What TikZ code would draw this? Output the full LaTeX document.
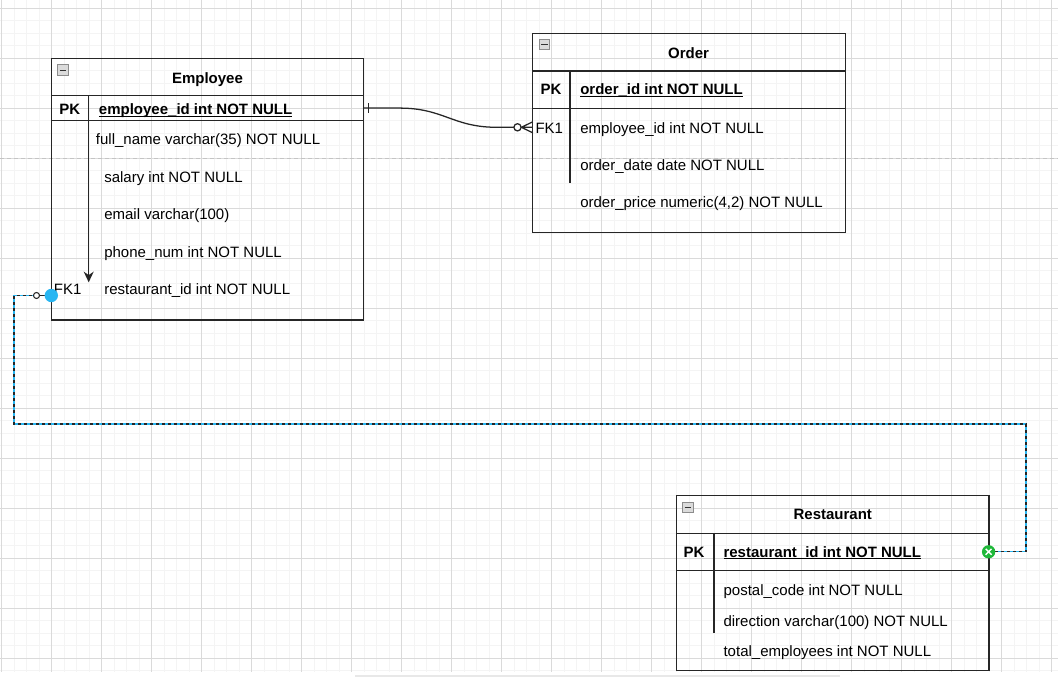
\documentclass[tikz,border=0pt]{standalone}
\usepackage{fontspec}
\setmainfont{Liberation Sans}
\usetikzlibrary{arrows.meta,calc}

\definecolor{gridminor}{HTML}{F4F4F4}
\definecolor{gridmajor}{HTML}{DADADA}
\definecolor{pagebreak}{HTML}{C4C4C4}
\definecolor{selblue}{HTML}{29B6F2}
\definecolor{okgreen}{HTML}{1FB83A}
\definecolor{linecol}{HTML}{262626}

% bold, underlined primary-key field
\newcommand\keyfield[1]{\setbox0\hbox{\bfseries #1}\rlap{\rule[-1.5pt]{\wd0}{0.8pt}}\box0}

\tikzset{
  minorline/.style={gridminor, line width=0.75pt},
  majorline/.style={gridmajor, line width=0.75pt},
  tbl/.style={draw=linecol, line width=0.95pt},
  row/.style={inner sep=0pt, outer sep=0pt, minimum width=234.3pt},
  tabletitle/.style={anchor=base, inner sep=0pt, font=\fontsize{11.25}{13.5}\selectfont\bfseries},
  keylbl/.style={anchor=base, inner sep=0pt, font=\fontsize{11.25}{13.5}\selectfont\bfseries},
  field/.style={anchor=base west, inner sep=0pt},
  fklbl/.style={anchor=base east, inner sep=0pt},
  minusbox/.style={draw=black!45, fill=black!14, line width=0.6pt, minimum size=8pt, inner sep=0pt,
    path picture={\draw[black!80, line width=0.9pt]
      ([xshift=-2.4pt]path picture bounding box.center) -- ([xshift=2.4pt]path picture bounding box.center);}},
  rel/.style={draw=linecol, line width=0.95pt},
  handle/.style={circle, inner sep=0pt, minimum size=10pt, draw=none},
}

\begin{document}
\begin{tikzpicture}[x=0.75pt, y=-0.75pt, font=\fontsize{11.25}{13.5}\selectfont]
\useasboundingbox (0,0) rectangle (1058,677);
\fill[white] (0,0) rectangle (1058,677);

% canvas grid
\foreach \k in {0,...,84} \draw[minorline] ({1.7+12.5*\k},0) -- ({1.7+12.5*\k},672);
\foreach \k in {0,...,53} \draw[minorline] (0,{8.3+12.5*\k}) -- (1058,{8.3+12.5*\k});
\foreach \k in {0,...,21} \draw[majorline] ({1.7+50*\k},0) -- ({1.7+50*\k},672);
\foreach \k in {0,...,13} \draw[majorline] (0,{8.3+50*\k}) -- (1058,{8.3+50*\k});
\fill[black!9] (355,674.8) rectangle (840,677);

% page break
\draw[pagebreak, line width=0.9pt, dash pattern=on 3pt off 2.25pt] (0,158.3) -- (1058,158.3);

% ---------------- Employee ----------------
\draw[tbl] (51.3,58.3) rectangle (363.7,320);
\draw[tbl] (51.3,95.5) -- (363.7,95.5);
\draw[tbl] (51.3,120.7) -- (363.7,120.7);
\draw[tbl, -{Stealth[length=8pt, width=7.5pt]}] (88.7,95.5) -- (88.7,282.3);
\node[minusbox] (emp-min) at (62.8,70.2) {};
\node[tabletitle] (emp-title) at (207.5,83.3) {Employee};
\node[row, minimum height=18.9pt] (emp-pk) at (207.5,108.1) {};
\node[keylbl] (emp-pk-k) at (69.7,115) {PK};
\node[field] (emp-pk-f) at (98.7,115) {\keyfield{employee\_id int NOT NULL}};
\node[field] (emp-f1) at (95.7,145) {full\_name varchar(35) NOT NULL};
\node[field] (emp-f2) at (104,182.5) {salary int NOT NULL};
\node[field] (emp-f3) at (104,220) {email varchar(100)};
\node[field] (emp-f4) at (104,257.5) {phone\_num int NOT NULL};
\node[row, minimum height=27pt] (emp-fk) at (207.5,295.5) {};
\node[fklbl] (emp-fk-k) at (81.7,295) {FK1};
\node[field] (emp-f5) at (104,295) {restaurant\_id int NOT NULL};

% ---------------- Order ----------------
\draw[tbl] (532.8,33.3) rectangle (845.3,232.3);
\draw[tbl] (532.8,71) -- (845.3,71);
\draw[tbl] (532.8,108.7) -- (845.3,108.7);
\draw[tbl] (570,71) -- (570,182.7);
\node[minusbox] (ord-min) at (544.3,44.5) {};
\node[tabletitle] (ord-title) at (688.5,58.3) {Order};
\node[row, minimum height=27.8pt] (ord-pk) at (689,89.8) {};
\node[keylbl] (ord-pk-k) at (551,95) {PK};
\node[field] (ord-pk-f) at (580,95) {\keyfield{order\_id int NOT NULL}};
\node[row, minimum height=27.8pt] (ord-fk) at (689,127.3) {};
\node[fklbl] (ord-fk-k) at (563.3,133.3) {FK1};
\node[field] (ord-f1) at (580,133.3) {employee\_id int NOT NULL};
\node[field] (ord-f2) at (580,170.3) {order\_date date NOT NULL};
\node[field] (ord-f3) at (580,207.3) {order\_price numeric(4,2) NOT NULL};

% ---------------- Restaurant ----------------
\draw[tbl] (676.7,495.7) rectangle (989,670.3);
\draw[tbl] (676.7,533.3) -- (989,533.3);
\draw[tbl] (676.7,570.3) -- (989,570.3);
\draw[tbl] (714,533.3) -- (714,632.7);
\node[minusbox] (res-min) at (687.8,507.3) {};
\node[tabletitle] (res-title) at (832.8,520) {Restaurant};
\node[row, minimum height=27.8pt] (res-pk) at (832.8,551.8) {};
\node[keylbl] (res-pk-k) at (694,557.3) {PK};
\node[field] (res-pk-f) at (723.3,557.3) {\keyfield{restaurant\_id int NOT NULL}};
\node[field] (res-f1) at (723.3,595) {postal\_code int NOT NULL};
\node[field] (res-f2) at (723.3,626) {direction varchar(100) NOT NULL};
\node[field] (res-f3) at (723.3,656.7) {total\_employees int NOT NULL};

% ---------------- Employee (1) -- (0..n) Order ----------------
\draw[rel] (emp-pk.east) -- ($(emp-pk.east)+(36,0)$)
  .. controls ($(emp-pk.east)+(80,0)$) and ($(ord-fk.west)+(-80,0)$) .. ($(ord-fk.west)+(-36,0)$)
  -- ($(ord-fk.west)+(-19,0)$);
\draw[rel] ($(emp-pk.east)+(4.8,-5)$) -- ($(emp-pk.east)+(4.8,5)$);
\draw[rel, fill=white] ($(ord-fk.west)+(-15.3,0)$) circle[radius=3.6];
\draw[rel] ($(ord-fk.west)+(-11.5,0)$) -- (ord-fk.west)
  ($(ord-fk.west)+(-11.5,0)$) -- ($(ord-fk.west)+(0,-5.5)$)
  ($(ord-fk.west)+(-11.5,0)$) -- ($(ord-fk.west)+(0,5.5)$);

% ---------------- Restaurant (1) -- (0..1) Employee ----------------
\coordinate (bendR) at (1026,424);
\coordinate (bendL) at (14,424);
\draw[selblue, line width=1pt] (res-pk.east) -| (bendR) -- (bendL) |- ($(emp-fk.west)+(-18,0)$);
\draw[linecol, line width=1pt, dash pattern=on 2.25pt off 2.25pt]
  (res-pk.east) -| (bendR) -- (bendL) |- ($(emp-fk.west)+(-18,0)$);
\draw[rel, line width=0.8pt, fill=white] ($(emp-fk.west)+(-14.8,0)$) circle[radius=3];
\draw[rel, line width=0.8pt] ($(emp-fk.west)+(-11.8,0)$) -- (emp-fk.west);

% selection handles
\node[handle, fill=selblue] (h-emp) at (emp-fk.west) {};
\node[handle, fill=okgreen] (h-res) at ([xshift=-0.3pt]res-pk.east) {};
\draw[white, line width=1.1pt] ([shift={(-2.2pt,-2.2pt)}]h-res.center) -- ([shift={(2.2pt,2.2pt)}]h-res.center)
  ([shift={(-2.2pt,2.2pt)}]h-res.center) -- ([shift={(2.2pt,-2.2pt)}]h-res.center);
\end{tikzpicture}
\end{document}
